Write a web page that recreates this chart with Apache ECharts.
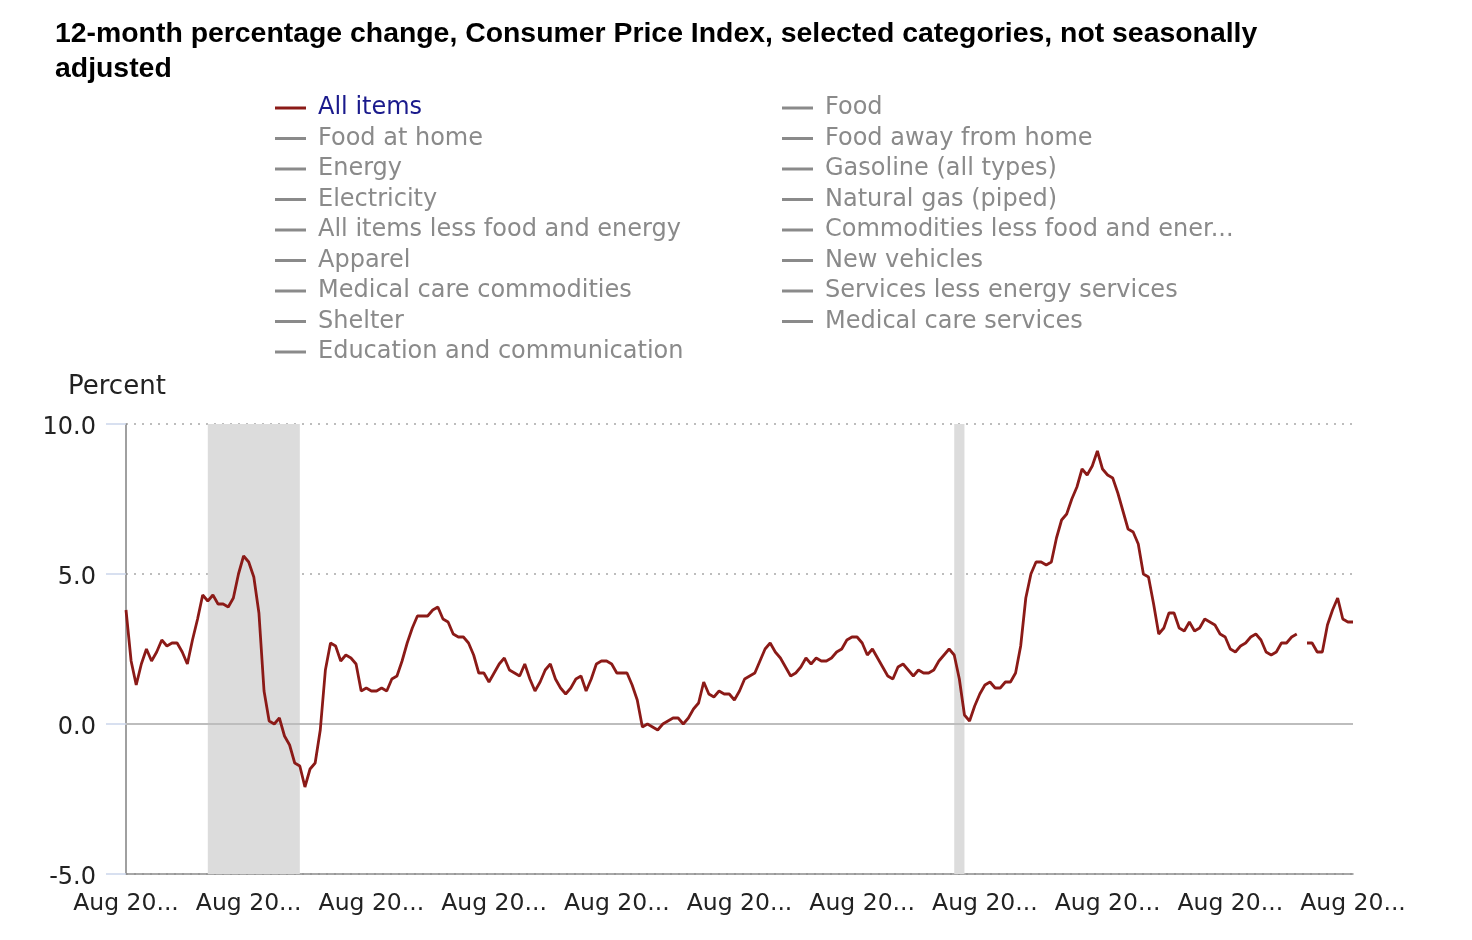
<!DOCTYPE html>
<html>
<head>
<meta charset="utf-8">
<script src="https://cdn.jsdelivr.net/npm/echarts@6/dist/echarts.min.js"></script>
<style>
html,body{margin:0;padding:0;background:#fff;}
#chart{width:1472px;height:940px;}
</style>
</head>
<body>
<div id="chart"></div>
<script>
// ---- Data: 12-month % change, CPI-U All items (Aug 2006 .. Aug 2026) ----
const v2006 = [3.8, 2.1, 1.3, 2.0, 2.5]; // Aug-Dec
const v2007 = [2.1, 2.4, 2.8, 2.6, 2.7, 2.7, 2.4, 2.0, 2.8, 3.5, 4.3, 4.1];
const v2008 = [4.3, 4.0, 4.0, 3.9, 4.2, 5.0, 5.6, 5.4, 4.9, 3.7, 1.1, 0.1];
const v2009 = [0.0, 0.2, -0.4, -0.7, -1.3, -1.4, -2.1, -1.5, -1.3, -0.2, 1.8, 2.7];
const v2010 = [2.6, 2.1, 2.3, 2.2, 2.0, 1.1, 1.2, 1.1, 1.1, 1.2, 1.1, 1.5];
const v2011 = [1.6, 2.1, 2.7, 3.2, 3.6, 3.6, 3.6, 3.8, 3.9, 3.5, 3.4, 3.0];
const v2012 = [2.9, 2.9, 2.7, 2.3, 1.7, 1.7, 1.4, 1.7, 2.0, 2.2, 1.8, 1.7];
const v2013 = [1.6, 2.0, 1.5, 1.1, 1.4, 1.8, 2.0, 1.5, 1.2, 1.0, 1.2, 1.5];
const v2014 = [1.6, 1.1, 1.5, 2.0, 2.1, 2.1, 2.0, 1.7, 1.7, 1.7, 1.3, 0.8];
const v2015 = [-0.1, 0.0, -0.1, -0.2, 0.0, 0.1, 0.2, 0.2, 0.0, 0.2, 0.5, 0.7];
const v2016 = [1.4, 1.0, 0.9, 1.1, 1.0, 1.0, 0.8, 1.1, 1.5, 1.6, 1.7, 2.1];
const v2017 = [2.5, 2.7, 2.4, 2.2, 1.9, 1.6, 1.7, 1.9, 2.2, 2.0, 2.2, 2.1];
const v2018 = [2.1, 2.2, 2.4, 2.5, 2.8, 2.9, 2.9, 2.7, 2.3, 2.5, 2.2, 1.9];
const v2019 = [1.6, 1.5, 1.9, 2.0, 1.8, 1.6, 1.8, 1.7, 1.7, 1.8, 2.1, 2.3];
const v2020 = [2.5, 2.3, 1.5, 0.3, 0.1, 0.6, 1.0, 1.3, 1.4, 1.2, 1.2, 1.4];
const v2021 = [1.4, 1.7, 2.6, 4.2, 5.0, 5.4, 5.4, 5.3, 5.4, 6.2, 6.8, 7.0];
const v2022 = [7.5, 7.9, 8.5, 8.3, 8.6, 9.1, 8.5, 8.3, 8.2, 7.7, 7.1, 6.5];
const v2023 = [6.4, 6.0, 5.0, 4.9, 4.0, 3.0, 3.2, 3.7, 3.7, 3.2, 3.1, 3.4];
const v2024 = [3.1, 3.2, 3.5, 3.4, 3.3, 3.0, 2.9, 2.5, 2.4, 2.6, 2.7, 2.9];
const v2025 = [3.0, 2.8, 2.4, 2.3, 2.4, 2.7, 2.7, 2.9, 3.0, null, 2.7, 2.7];
const v2026 = [2.4, 2.4, 3.3, 3.8, 4.2, 3.5, 3.4, 3.4]; // Jan-Aug

const allItems = [].concat(v2006, v2007, v2008, v2009, v2010, v2011, v2012, v2013,
  v2014, v2015, v2016, v2017, v2018, v2019, v2020, v2021, v2022, v2023, v2024, v2025, v2026);

// Category labels (months)
const monthNames = ['Jan','Feb','Mar','Apr','May','Jun','Jul','Aug','Sep','Oct','Nov','Dec'];
const startYear = 2006, startMonth = 7; // Aug 2006
const months = [];
for (let i = 0; i < allItems.length; i++) {
  const m = (startMonth + i) % 12;
  const y = startYear + Math.floor((startMonth + i) / 12);
  months.push(monthNames[m] + ' ' + y);
}

// Recession periods (shaded)
const recessions = [['Dec 2007', 'Jun 2009'], ['Feb 2020', 'Apr 2020']];

// Y ticks
const yTicks = { min: -5, max: 10, step: 5 };

// Legend names
const legendLeft = ['All items', 'Food at home', 'Energy', 'Electricity',
  'All items less food and energy', 'Apparel', 'Medical care commodities', 'Shelter',
  'Education and communication'];
const legendRight = ['Food', 'Food away from home', 'Gasoline (all types)', 'Natural gas (piped)',
  'Commodities less food and energy commodities', 'New vehicles', 'Services less energy services',
  'Medical care services'];

const FONT = 'DejaVu Sans';
const selected = {};
legendLeft.concat(legendRight).forEach(n => { selected[n] = (n === 'All items'); });

// Exact text truncation with ellipsis, measured on a canvas
const measureCtx = document.createElement('canvas').getContext('2d');
measureCtx.font = '24px "DejaVu Sans"';
function fitText(text, maxWidth) {
  if (measureCtx.measureText(text).width <= maxWidth) return text;
  let t = text;
  while (t.length > 0 && measureCtx.measureText(t + '...').width > maxWidth) t = t.slice(0, -1);
  return t + '...';
}

function legendCfg(names, left) {
  return {
    orient: 'vertical',
    left: left,
    top: 96,
    padding: 0,
    itemWidth: 31,
    itemHeight: 3,
    itemGap: 6.5,
    icon: 'rect',
    data: names,
    selected: selected,
    inactiveColor: '#8a8a8a',
    formatter: name => fitText(name, 418),
    textStyle: {
      fontFamily: FONT, fontSize: 24, color: '#1a1a8c',
      padding: [0, 0, 0, 7]
    }
  };
}

const series = [{
  name: 'All items',
  type: 'line',
  data: allItems,
  symbol: 'none',
  connectNulls: false,
  color: '#8b1a17',
  lineStyle: { width: 2.8, color: '#8b1a17' },
  z: 5,
  markArea: {
    silent: true,
    itemStyle: { color: '#dcdcdc' },
    data: recessions.map(r => [{ xAxis: r[0] }, { xAxis: r[1] }])
  },
  markLine: {
    silent: true,
    symbol: 'none',
    label: { show: false },
    lineStyle: { color: '#bdbdbd', width: 2, type: 'solid' },
    data: [{ yAxis: 0 }]
  }
}];
legendLeft.concat(legendRight).forEach(n => {
  if (n !== 'All items') series.push({ name: n, type: 'line', data: [], symbol: 'none', color: '#8a8a8a' });
});

const chart = echarts.init(document.getElementById('chart'));
chart.setOption({
  animation: false,
  backgroundColor: '#fff',
  title: [{
    text: '12-month percentage change, Consumer Price Index, selected categories, not seasonally\nadjusted',
    left: 55, top: 17, padding: 0,
    textStyle: { fontFamily: 'Liberation Sans', fontWeight: 'bold', fontSize: 28.4, color: '#000', lineHeight: 35 }
  }, {
    text: 'Percent',
    left: 68, top: 374, padding: 0,
    textStyle: { fontFamily: FONT, fontWeight: 'normal', fontSize: 26, color: '#222' }
  }],
  legend: [legendCfg(legendLeft, 275), legendCfg(legendRight, 782)],
  grid: { left: 126, right: 119, top: 424, bottom: 66, containLabel: false },
  xAxis: {
    type: 'category',
    data: months,
    boundaryGap: false,
    axisLine: { show: true, onZero: false, lineStyle: { color: '#8c8c8c', width: 1.5 } },
    axisTick: { show: false },
    axisLabel: {
      interval: 23,
      fontFamily: FONT, fontSize: 23.5, color: '#222',
      margin: 18,
      width: 108, overflow: 'truncate', ellipsis: '...',
      hideOverlap: false
    },
    splitLine: { show: false }
  },
  yAxis: {
    type: 'value',
    min: yTicks.min, max: yTicks.max, interval: yTicks.step,
    axisLine: { show: true, lineStyle: { color: '#808080', width: 1.5 } },
    axisTick: { show: true, length: 20, lineStyle: { color: '#ccd6eb', width: 1.5 } },
    axisLabel: {
      fontFamily: FONT, fontSize: 24, color: '#222', margin: 30,
      formatter: v => '{n|' + v.toFixed(1) + '}',
      rich: { n: { fontFamily: FONT, fontSize: 24, color: '#222', padding: [8, 0, 0, 0] } }
    },
    splitLine: { show: true, lineStyle: { color: '#bdbdbd', width: 2, type: [2, 6] } }
  },
  series: series
});
</script>
</body>
</html>
